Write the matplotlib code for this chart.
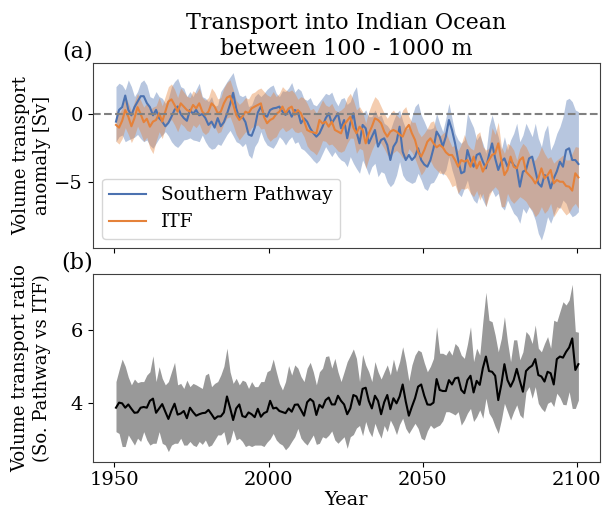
import matplotlib
matplotlib.use("Agg")
import matplotlib.pyplot as plt
import numpy as np

# mid-year time axis, 1950-2100
years = np.arange(1950, 2101) + 0.5

# Southern Pathway anomaly [Sv]: ensemble mean and spread
sp_mean = [
    -0.56, 0.30, 0.50, 1.35, 0.30, -0.10, 0.50, 0.90, 1.30, 1.30,
    0.80, 0.50, -0.10, 0.30, -0.30, -0.56, -0.90, -0.65, -0.20, 0.30,
    0.55, 0.00, -0.30, -0.50, 0.30, 0.00, 0.30, -0.10, 0.00, -0.30,
    -0.80, -0.56, -1.00, -0.30, -0.90, -0.60, 0.00, 0.70, 1.55, 0.40,
    -0.30, -0.20, -0.60, -1.50, -1.60, -1.00, 0.10, 0.54, -0.07, -0.20,
    0.29, 0.41, 0.45, 0.54, 0.17, -0.07, 0.29, -0.20, 0.29, 0.17,
    -0.68, -0.32, -0.56, -1.05, -1.40, -1.66, -1.42, -0.93, -0.32, 0.05,
    -0.68, -0.32, 0.05, -1.05, -0.44, -1.78, -0.68, 0.05, -1.29, -2.15,
    -0.80, -1.05, -2.15, -1.66, -1.17, -2.39, -1.90, -1.78, -2.27, -3.37,
    -2.39, -2.03, -0.93, -2.76, -3.37, -3.00, -3.37, -3.12, -2.51, -3.37,
    -3.70, -3.86, -3.37, -2.51, -1.29, -1.66, -2.39, -1.66, -0.44, -1.17,
    -2.15, -3.37, -4.34, -4.22, -2.64, -3.37, -3.86, -3.00, -2.88, -3.49,
    -3.98, -3.00, -2.15, -3.25, -4.10, -3.49, -3.25, -3.86, -3.37, -3.73,
    -3.98, -5.32, -4.22, -4.10, -3.25, -3.12, -4.10, -5.08, -5.32, -4.47,
    -4.59, -5.44, -4.71, -4.20, -3.49, -3.86, -2.64, -2.51, -3.37, -3.37,
    -3.66,
]
sp_high = [
    2.00, 2.25, 2.12, 1.76, 2.49, 2.00, 1.27, 1.64, 2.30, 2.49,
    2.12, 1.27, 1.15, 1.64, 1.27, 1.15, 0.78, 1.15, 2.00, 2.37,
    2.61, 2.00, 1.88, 1.27, 1.64, 1.27, 1.80, 2.25, 1.27, 1.15,
    0.90, 1.27, 0.54, 0.66, 1.64, 2.00, 2.37, 2.70, 3.03, 2.12,
    1.39, 1.27, 1.39, 0.54, 0.66, 1.27, 1.51, 1.27, 1.50, 1.80,
    2.00, 2.12, 1.51, 1.27, 1.70, 1.64, 1.90, 2.30, 1.60, 1.88,
    1.70, 1.10, 1.00, 1.20, 0.70, 0.60, 0.90, 1.20, 1.51, 1.40,
    1.60, 1.00, 0.60, 1.10, 1.20, 0.70, 0.90, 1.60, 2.00, 0.30,
    0.00, 0.30, -0.20, -0.20, 0.29, -0.20, -0.07, -0.68, -0.85, -1.17,
    -0.50, 0.05, 0.29, -0.50, -1.10, -1.00, -0.20, 0.54, 0.80, -0.07,
    -0.56, -1.10, -1.10, -1.00, 0.05, -0.68, -1.29, -0.32, 0.78, -0.32,
    -1.42, -1.90, -2.15, -1.90, 0.05, -0.50, -1.00, -1.90, -1.54, -2.15,
    -2.88, -0.93, -0.07, -0.93, -1.66, -2.64, -1.66, -2.64, -1.90, -1.42,
    -0.68, -2.03, -1.54, -0.68, -1.17, -1.66, -0.68, -1.78, -2.39, -1.29,
    -0.80, -2.64, -2.15, -1.42, -0.93, -0.20, 1.02, 1.15, 0.90, 0.29,
    0.17,
]
sp_low = [
    -2.03, -1.66, -1.54, -2.03, -1.90, -1.80, -1.70, -1.50, -1.80, -2.03,
    -1.90, -2.30, -2.51, -2.15, -1.78, -1.54, -1.29, -1.60, -2.03, -2.30,
    -2.45, -2.20, -1.90, -1.85, -1.75, -1.90, -1.95, -2.03, -1.54, -2.03,
    -2.39, -2.58, -2.51, -2.20, -2.30, -1.90, -1.50, -1.20, -1.60, -2.03,
    -2.15, -2.39, -2.15, -3.00, -3.25, -2.39, -2.03, -1.29, -1.90, -2.27,
    -2.40, -2.51, -2.15, -1.66, -1.90, -2.27, -1.90, -1.66, -2.15, -2.03,
    -2.51, -2.64, -2.88, -3.12, -3.40, -3.61, -3.37, -2.88, -2.39, -2.76,
    -3.12, -2.76, -3.12, -3.37, -3.49, -3.86, -3.12, -3.61, -4.00, -4.34,
    -3.37, -3.86, -4.47, -3.86, -3.61, -4.59, -4.22, -4.34, -5.00, -5.32,
    -5.08, -4.47, -3.49, -4.47, -4.83, -4.96, -5.08, -4.96, -4.34, -4.83,
    -5.44, -5.60, -5.08, -5.00, -4.59, -4.10, -4.47, -4.10, -3.12, -4.10,
    -4.83, -5.81, -6.05, -5.44, -4.83, -5.81, -6.30, -6.54, -5.81, -6.30,
    -6.78, -5.81, -5.56, -6.05, -5.81, -6.78, -7.03, -6.30, -6.78, -7.27,
    -7.50, -8.00, -6.91, -7.27, -6.78, -7.15, -7.76, -8.74, -9.22, -8.49,
    -7.52, -8.00, -7.39, -6.78, -6.91, -6.30, -6.54, -7.20, -7.52, -7.39,
    -7.15,
]

# ITF anomaly [Sv]
itf_mean = [
    -0.80, -1.00, -0.50, 0.29, -0.20, -0.90, -0.30, 0.50, 0.00, -0.60,
    -0.35, -0.93, -0.56, -0.44, 0.05, -0.56, 0.17, 0.90, 1.07, 0.66,
    0.17, 0.78, 0.54, 0.29, 0.17, 0.66, 0.41, 0.78, 0.17, -0.07,
    0.17, 0.78, 0.54, 0.05, 0.17, 0.78, 1.20, 1.32, 0.70, -0.07,
    -0.44, -0.20, 0.17, 0.05, 0.41, 0.54, 0.66, 0.78, -0.20, -0.68,
    -0.44, -0.32, 0.00, 0.17, 0.54, 0.05, 0.41, 0.54, -0.07, 0.29,
    0.05, -0.50, -1.17, -1.29, -1.35, -1.42, -0.44, -0.70, -0.56, -0.93,
    -0.56, -1.17, -1.29, -1.42, -0.80, -0.50, -0.20, -1.00, -1.42, -0.93,
    -1.17, -2.15, -1.42, -0.93, -0.32, -0.44, -0.68, -1.29, -1.66, -1.29,
    -1.17, -1.29, -1.50, -1.66, -1.10, -0.80, -1.42, -1.90, -2.76, -3.12,
    -2.64, -2.03, -1.78, -2.15, -2.44, -2.27, -2.44, -2.80, -3.00, -3.00,
    -3.37, -3.86, -3.37, -3.49, -3.37, -3.86, -3.12, -3.98, -3.49, -4.22,
    -3.73, -3.37, -3.00, -2.88, -2.15, -3.37, -4.47, -4.10, -3.12, -3.86,
    -3.98, -3.37, -3.17, -4.22, -4.47, -4.71, -5.08, -4.71, -3.98, -4.71,
    -4.47, -4.10, -5.08, -4.83, -4.96, -4.96, -5.27, -5.32, -5.61, -4.34,
    -4.64,
]
itf_high = [
    0.30, 0.00, 0.40, 1.30, 0.80, 0.20, 0.90, 1.50, 1.00, 0.50,
    0.80, 0.30, 0.50, 0.60, 1.20, 0.60, 1.30, 2.00, 2.20, 1.80,
    1.20, 1.90, 1.60, 1.30, 1.20, 1.70, 1.50, 1.90, 1.20, 1.00,
    1.20, 1.90, 1.60, 1.10, 1.20, 1.90, 2.30, 2.50, 1.80, 1.00,
    0.70, 0.90, 1.20, 1.10, 1.50, 1.60, 1.80, 1.90, 1.64, 1.40,
    1.27, 1.64, 1.27, 1.51, 2.00, 1.76, 1.64, 1.76, 1.50, 1.08,
    1.27, 1.15, 0.78, 0.29, 0.41, 0.05, 0.54, 1.03, 0.66, 0.54,
    0.78, 0.29, 0.17, 0.29, 0.50, 1.20, 1.51, 1.03, 0.29, 0.54,
    0.17, -0.68, 0.17, 0.78, 1.27, 1.03, 0.54, 0.05, -0.32, 0.05,
    0.29, -0.07, -0.32, 0.29, 0.54, -0.20, -0.60, -0.60, -1.30, -1.66,
    -1.40, -1.05, -0.60, -0.50, -1.17, -1.66, -1.42, -1.29, -1.90, -2.39,
    -2.27, -2.70, -2.20, -1.50, -2.20, -2.50, -2.64, -1.50, -1.30, -2.39,
    -2.64, -2.50, -1.00, -1.50, -0.60, -2.39, -2.88, -2.15, -2.30, -2.64,
    -3.37, -2.55, -2.15, -2.39, -2.88, -3.37, -3.37, -3.00, -2.39, -2.88,
    -3.25, -3.12, -3.60, -3.37, -3.20, -3.00, -3.37, -3.37, -2.88, -2.39,
    -2.44,
]
itf_low = [
    -2.00, -2.20, -1.80, -1.00, -1.50, -2.10, -1.60, -0.90, -1.40, -2.00,
    -1.70, -2.50, -2.90, -2.00, -1.30, -1.80, -1.00, -0.60, -0.40, -0.80,
    -1.30, -0.70, -0.90, -1.20, -1.30, -0.80, -1.00, -0.70, -1.30, -1.50,
    -1.30, -0.70, -0.90, -1.40, -1.30, -0.70, -0.30, -0.20, -0.80, -1.50,
    -1.90, -1.60, -1.30, -1.40, -1.00, -0.90, -0.80, -1.10, -1.05, -1.70,
    -2.00, -1.78, -1.66, -1.20, -0.98, -1.29, -1.17, -0.98, -1.30, -1.37,
    -1.27, -1.66, -2.34, -2.64, -2.78, -3.00, -2.56, -1.95, -2.00, -2.27,
    -2.20, -2.44, -2.71, -2.80, -2.68, -2.15, -1.76, -1.78, -2.88, -2.51,
    -2.64, -4.00, -3.27, -2.64, -2.15, -1.98, -2.15, -2.54, -3.00, -3.12,
    -2.83, -2.66, -2.88, -3.22, -3.25, -2.54, -2.80, -3.27, -3.86, -4.47,
    -4.15, -3.61, -3.42, -3.86, -4.10, -4.34, -4.34, -4.47, -4.83, -5.32,
    -5.20, -5.81, -5.44, -5.50, -5.40, -5.80, -6.05, -5.60, -6.30, -5.81,
    -6.78, -6.05, -5.56, -5.32, -5.60, -6.78, -6.78, -5.81, -6.30, -6.54,
    -6.30, -6.05, -6.20, -6.40, -6.78, -7.03, -7.52, -7.27, -6.78, -7.27,
    -7.03, -6.54, -7.52, -7.15, -6.78, -7.10, -7.39, -7.20, -6.78, -6.54,
    -6.91,
]

# ratio So. Pathway / ITF
ratio_mean = [
    3.86, 4.00, 3.98, 3.86, 3.95, 3.83, 3.72, 3.73, 3.86, 3.88,
    3.86, 4.05, 4.11, 3.72, 3.84, 3.96, 3.75, 3.55, 3.78, 3.97,
    3.67, 3.70, 3.77, 3.57, 3.86, 3.74, 3.64, 3.68, 3.71, 3.72,
    3.80, 3.68, 3.55, 3.62, 3.62, 3.73, 4.17, 3.86, 3.52, 3.84,
    3.95, 3.63, 3.60, 3.73, 3.68, 3.60, 3.83, 3.61, 3.71, 3.75,
    4.05, 3.84, 3.86, 3.77, 3.74, 3.71, 3.84, 3.75, 3.94, 3.95,
    3.80, 3.64, 4.01, 4.10, 4.03, 3.66, 3.94, 3.86, 4.07, 4.14,
    3.95, 3.95, 4.19, 4.05, 3.95, 3.68, 3.84, 4.21, 4.17, 3.94,
    4.38, 4.41, 4.05, 3.84, 4.19, 4.05, 3.68, 4.01, 4.21, 3.82,
    4.12, 3.98, 4.17, 4.50, 4.03, 3.64, 3.89, 4.12, 4.44, 4.50,
    4.19, 3.95, 3.94, 4.00, 4.65, 4.35, 4.32, 4.32, 4.62, 4.50,
    4.67, 4.69, 4.35, 4.26, 4.62, 4.74, 4.28, 4.60, 4.49, 4.95,
    5.27, 4.87, 4.85, 4.74, 4.07, 4.50, 5.06, 4.62, 4.44, 4.62,
    4.93, 4.60, 4.30, 4.87, 4.96, 5.02, 5.20, 4.76, 4.72, 4.58,
    4.85, 4.81, 4.50, 5.20, 5.27, 5.24, 5.40, 5.52, 5.77, 4.90,
    5.06,
]
ratio_high = [
    4.58, 4.90, 5.20, 5.00, 4.70, 4.49, 4.65, 4.55, 4.58, 4.58,
    4.76, 4.85, 5.29, 4.58, 4.99, 4.67, 4.49, 4.58, 4.85, 5.11,
    4.49, 4.53, 4.39, 4.62, 4.44, 4.53, 4.49, 4.44, 4.39, 4.76,
    4.81, 4.44, 4.53, 4.58, 4.76, 5.00, 5.50, 4.85, 4.53, 4.67,
    4.49, 4.62, 4.58, 4.39, 4.58, 4.44, 4.44, 4.58, 4.58, 4.85,
    4.90, 5.20, 4.85, 4.53, 4.35, 4.58, 5.02, 4.76, 5.04, 4.95,
    4.72, 4.58, 4.95, 5.11, 4.85, 4.49, 4.85, 4.95, 5.27, 5.29,
    4.95, 5.22, 4.85, 4.58, 4.85, 5.13, 5.30, 5.48, 5.22, 4.58,
    5.33, 5.04, 4.85, 4.58, 5.13, 4.85, 4.65, 4.85, 5.04, 4.76,
    5.20, 4.85, 5.13, 5.54, 5.13, 4.60, 5.04, 5.31, 5.45, 5.40,
    5.10, 4.85, 5.00, 5.22, 6.09, 5.36, 5.36, 5.31, 5.45, 5.31,
    5.63, 5.54, 5.31, 5.22, 5.61, 6.09, 5.13, 5.50, 5.31, 6.23,
    7.04, 6.27, 6.23, 5.86, 5.40, 5.77, 6.37, 5.68, 5.13, 5.73,
    5.73, 5.18, 5.40, 5.96, 5.86, 5.63, 6.14, 5.50, 5.40, 5.63,
    5.82, 5.50, 6.27, 6.23, 6.51, 6.78, 6.69, 6.83, 7.26, 5.96,
    5.94,
]
ratio_low = [
    3.20, 3.15, 2.79, 2.79, 3.11, 2.97, 2.83, 3.02, 2.93, 3.20,
    2.97, 2.83, 2.88, 2.88, 3.20, 2.88, 2.83, 2.65, 2.83, 2.88,
    2.88, 3.02, 2.83, 2.83, 2.93, 2.83, 2.79, 2.93, 2.85, 2.97,
    2.79, 2.83, 2.97, 3.11, 3.11, 3.20, 2.83, 2.93, 3.25, 2.97,
    3.02, 2.93, 2.79, 2.83, 2.79, 2.83, 2.83, 2.83, 2.79, 2.91,
    3.00, 3.15, 2.97, 2.88, 2.83, 2.70, 2.79, 2.93, 3.06, 3.29,
    3.02, 2.91, 2.83, 2.97, 3.11, 2.85, 2.88, 3.06, 3.02, 3.10,
    3.22, 2.97, 2.88, 2.97, 3.06, 2.74, 3.06, 3.12, 3.30, 3.37,
    3.09, 3.48, 3.22, 3.06, 3.43, 3.20, 3.02, 3.37, 3.20, 3.52,
    3.35, 3.12, 3.40, 3.57, 3.29, 3.15, 3.29, 3.43, 3.29, 3.02,
    2.97, 3.22, 3.38, 3.29, 3.34, 3.38, 3.50, 3.75, 3.75, 3.71,
    3.66, 3.75, 3.38, 3.52, 3.71, 3.84, 3.48, 3.61, 3.80, 3.57,
    4.12, 3.71, 3.57, 3.34, 3.15, 3.52, 3.98, 3.75, 3.52, 3.75,
    3.94, 3.66, 3.57, 4.30, 4.44, 4.12, 4.44, 3.98, 3.84, 3.75,
    3.98, 4.03, 3.89, 4.26, 4.14, 3.95, 3.94, 4.30, 3.84, 3.84,
    4.07,
]

plt.rcParams['font.family'] = 'DejaVu Serif'
plt.rcParams['font.size'] = 14
plt.rcParams['axes.edgecolor'] = '0.25'

blue = '#4C72B0'
orange = '#E5823A'

fig = plt.figure(figsize=(6.03, 5.08), dpi=100)
ax1 = fig.add_axes([0.154, 0.512, 0.841, 0.364])
ax2 = fig.add_axes([0.154, 0.091, 0.841, 0.370], sharex=ax1)

# (a) anomalies
ax1.fill_between(years, sp_low, sp_high, color=blue, alpha=0.4, lw=0)
ax1.plot(years, sp_mean, color=blue, lw=1.5, label='Southern Pathway')
ax1.fill_between(years, itf_low, itf_high, color=orange, alpha=0.4, lw=0)
ax1.plot(years, itf_mean, color=orange, lw=1.5, label='ITF')
ax1.axhline(0, color='grey', ls='--', lw=1.5, zorder=2.5)
ax1.set_ylim(-9.8, 3.73)
ax1.set_yticks([-5, 0])
ax1.set_ylabel('Volume transport\nanomaly [Sv]', fontsize=13)
ax1.set_title('Transport into Indian Ocean\nbetween 100 - 1000 m', fontsize=16)
ax1.text(0, 1, '(a)', transform=ax1.transAxes, ha='right', va='bottom',
         fontsize=16)
ax1.legend(loc='lower left', fontsize=13.3)
ax1.tick_params(labelbottom=False)

# (b) ratio
ax2.fill_between(years, ratio_low, ratio_high, color='#999999', lw=0)
ax2.plot(years, ratio_mean, color='black', lw=1.5)
ax2.set_ylim(2.37, 7.55)
ax2.set_yticks([4, 6])
ax2.set_xlim(1943.0, 2107.5)
ax2.set_xticks([1950, 2000, 2050, 2100])
ax2.set_xlabel('Year', labelpad=1)
ax2.set_ylabel('Volume transport ratio\n(So. Pathway vs ITF)', fontsize=13)
ax2.text(0, 1, '(b)', transform=ax2.transAxes, ha='right', va='bottom',
         fontsize=16)

for ax in (ax1, ax2):
    ax.yaxis.set_label_coords(-0.083, 0.5)

fig.savefig('out.png', dpi=100)
